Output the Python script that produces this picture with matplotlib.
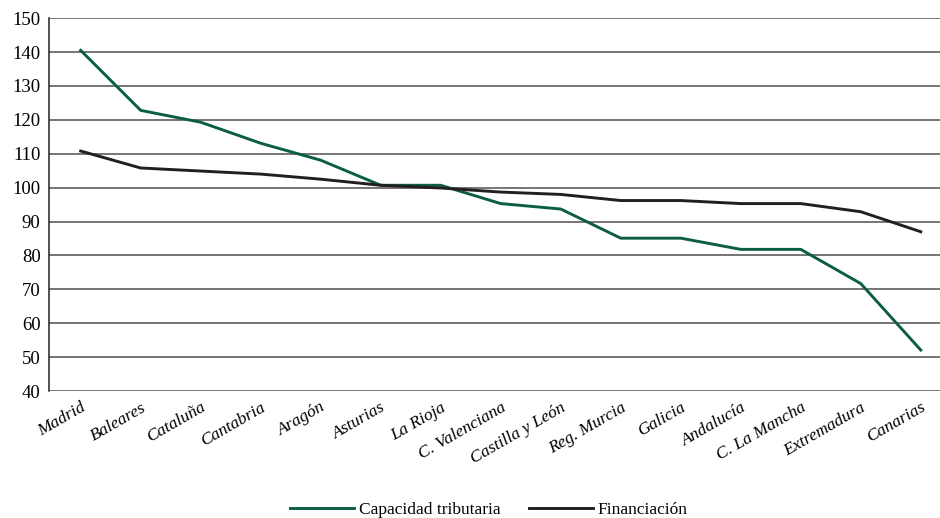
import numpy as np
import matplotlib.pyplot as plt

regiones = ["Madrid", "Baleares", "Cataluña", "Cantabria", "Aragón", "Asturias",
            "La Rioja", "C. Valenciana", "Castilla y León", "Reg. Murcia",
            "Galicia", "Andalucía", "C. La Mancha", "Extremadura", "Canarias"]
capacidad = [140.5, 122.8, 119.3, 113.1, 108.1, 100.7, 100.7, 95.3, 93.7,
             85.1, 85.1, 81.8, 81.8, 71.7, 52.1]
financiacion = [110.8, 105.8, 104.9, 104.0, 102.5, 100.7, 99.9, 98.7, 98.0,
                96.2, 96.2, 95.3, 95.3, 92.9, 87.0]
yticks = np.arange(40, 151, 10)

plt.rcParams['font.family'] = ['Liberation Serif', 'DejaVu Serif']

fig = plt.figure(figsize=(9.4, 5.18), dpi=100)
ax = fig.add_axes([0.052, 0.245, 0.948, 0.72])

x = np.arange(len(regiones))
ax.plot(x, capacidad, color="#0b5e45", lw=2.1, label="Capacidad tributaria")
ax.plot(x, financiacion, color="#231f20", lw=2.1, label="Financiación")

ax.set_ylim(40, 150)
ax.set_xlim(-0.53, 14.32)
ax.set_yticks(yticks)
ax.set_yticklabels([str(v) for v in yticks], fontsize=13.5)
ax.yaxis.grid(True, color="#505050", lw=1.1)
ax.set_axisbelow(True)
ax.tick_params(axis="both", length=0, pad=6)

ax.set_xticks(x)
ax.set_xticklabels(regiones, rotation=30, ha="right", rotation_mode="anchor",
                   fontsize=12.5, style="italic")

for s in ["top", "right", "bottom"]:
    ax.spines[s].set_visible(False)
ax.spines["left"].set_color("#231f20")
ax.spines["left"].set_linewidth(1.1)

fig.legend(loc="lower center", bbox_to_anchor=(0.52, -0.03), ncol=2,
           frameon=False, fontsize=12.5, handlelength=3.7, columnspacing=1.6,
           handletextpad=0.3)

fig.savefig("out.png", dpi=100)
